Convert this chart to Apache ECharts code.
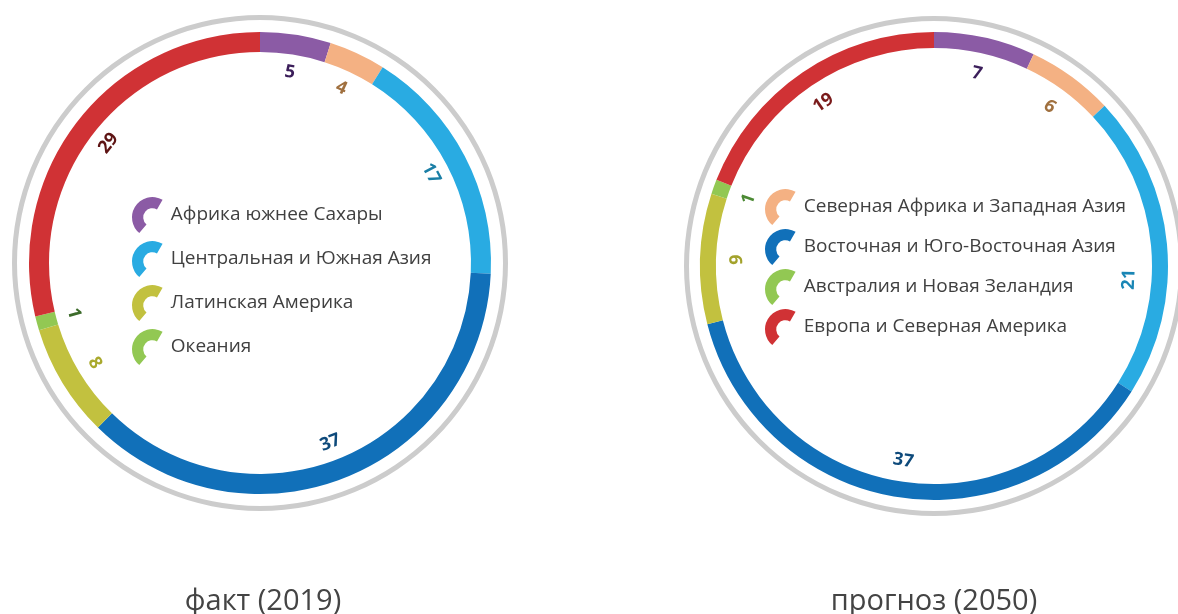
<!DOCTYPE html>
<html>
<head>
<meta charset="utf-8">
<script src="https://cdn.jsdelivr.net/npm/echarts@6/dist/echarts.min.js"></script>
<style>
    html, body { margin: 0; padding: 0; background: #fff; }
    #chart { width: 1178px; height: 614px; }
</style>
</head>
<body>
<div id="chart"></div>
<script>
// regions, clockwise from the top of each ring
var regions2019 = ['Африка южнее Сахары', 'Северная Африка и Западная Азия', 'Центральная и Южная Азия',
    'Восточная и Юго-Восточная Азия', 'Латинская Америка', 'Океания', 'Европа и Северная Америка'];
var regions2050 = ['Африка южнее Сахары', 'Северная Африка и Западная Азия', 'Центральная и Южная Азия',
    'Восточная и Юго-Восточная Азия', 'Латинская Америка', 'Австралия и Новая Зеландия', 'Европа и Северная Америка'];
var values2019 = [5, 4, 17, 37, 8, 1, 29];
var values2050 = [7, 6, 21, 37, 9, 1, 19];
var titles = ['факт (2019)', 'прогноз (2050)'];
var legendLeft = ['Африка южнее Сахары', 'Центральная и Южная Азия', 'Латинская Америка', 'Океания'];
var legendRight = ['Северная Африка и Западная Азия', 'Восточная и Юго-Восточная Азия', 'Австралия и Новая Зеландия', 'Европа и Северная Америка'];

var colors = ['#8b5ba5', '#f4b183', '#29abe2', '#1170b9', '#c2c13f', '#92c853', '#d03235'];
var labelColors2019 = ['#3b1e5a', '#a0703f', '#1b7fa6', '#0e4a7b', '#a9a92d', '#3c6b2a', '#5e1414'];
var labelColors2050 = ['#3b1e5a', '#a0703f', '#1a86b5', '#0e4a7b', '#a3a22b', '#4c8a34', '#7a1a1a'];

// thick arc piece used as legend marker
var arcIcon = 'path://M30,2.68 A20,20 0 0 0 7.14,35.32 L14.21,26.89 A9,9 0 0 1 24.5,12.21 Z';

var zt = {};

function ringData(names, values) {
    return names.map(function(n, i) {
        return { name: n, value: values[i], itemStyle: { color: colors[i] } };
    });
}

function labelData(names, values, labelColors) {
    return names.map(function(n, i) {
        return { name: n, value: values[i], label: { color: labelColors[i] } };
    });
}

function buildSeries(center, grayR, ringR, labelR, names, values, labelColors, layoutFn) {
    return [{
        type: 'pie', silent: true, center: center, radius: grayR,
        label: { show: false }, itemStyle: { color: '#cccccc' },
        data: [{ name: 'outline', value: 1 }]
    }, {
        type: 'pie', center: center, radius: ringR, startAngle: 90, clockwise: true,
        label: { show: false }, labelLine: { show: false },
        data: ringData(names, values)
    }, {
        type: 'pie', silent: true, center: center, radius: labelR, startAngle: 90, clockwise: true,
        itemStyle: { color: 'rgba(0,0,0,0)' },
        label: {
            show: true, position: 'inside', rotate: 'tangential', formatter: '{c}',
            fontFamily: 'Open Sans', fontWeight: 'bold', fontSize: 18
        },
        labelLayout: layoutFn,
        data: labelData(names, values, labelColors)
    }];
}

// "21" sits a bit lower on the ring in the original, reading upward
// (the shift is in the label's own rotated frame)
function layout2050(p) {
    if (p.dataIndex === 2) {
        return { dx: -32, rotate: 88 };
    }
    return {};
}

function legendOpt(data, left, top, gap, pad) {
    return {
        data: data, orient: 'vertical', left: left, top: top,
        icon: arcIcon, itemWidth: 31, itemHeight: 36, itemGap: gap,
        selectedMode: false,
        textStyle: { fontFamily: 'Open Sans', fontSize: 19, color: '#404040', padding: [0, 0, 0, pad] }
    };
}

function init() {
    zt.chart = echarts.init(document.getElementById('chart'));
    zt.option = {
        animation: false,
        title: [
            { text: titles[0], left: 263, top: 587, textAlign: 'center', padding: 0,
              textStyle: { fontFamily: 'Open Sans', fontSize: 29, fontWeight: 'normal', color: '#444' } },
            { text: titles[1], left: 934, top: 587, textAlign: 'center', padding: 0,
              textStyle: { fontFamily: 'Open Sans', fontSize: 29, fontWeight: 'normal', color: '#444' } }
        ],
        legend: [
            legendOpt(legendLeft, 127, 192, 8, 3),
            legendOpt(legendRight, 760, 184, 4, 3)
        ],
        series: buildSeries([260, 263], [243, 248], [211, 231], [180, 200], regions2019, values2019, labelColors2019)
            .concat(buildSeries([934, 266], [245, 250], [218, 234], [184, 204], regions2050, values2050, labelColors2050, layout2050))
    };
    zt.chart.setOption(zt.option);
}

init();
</script>
</body>
</html>
